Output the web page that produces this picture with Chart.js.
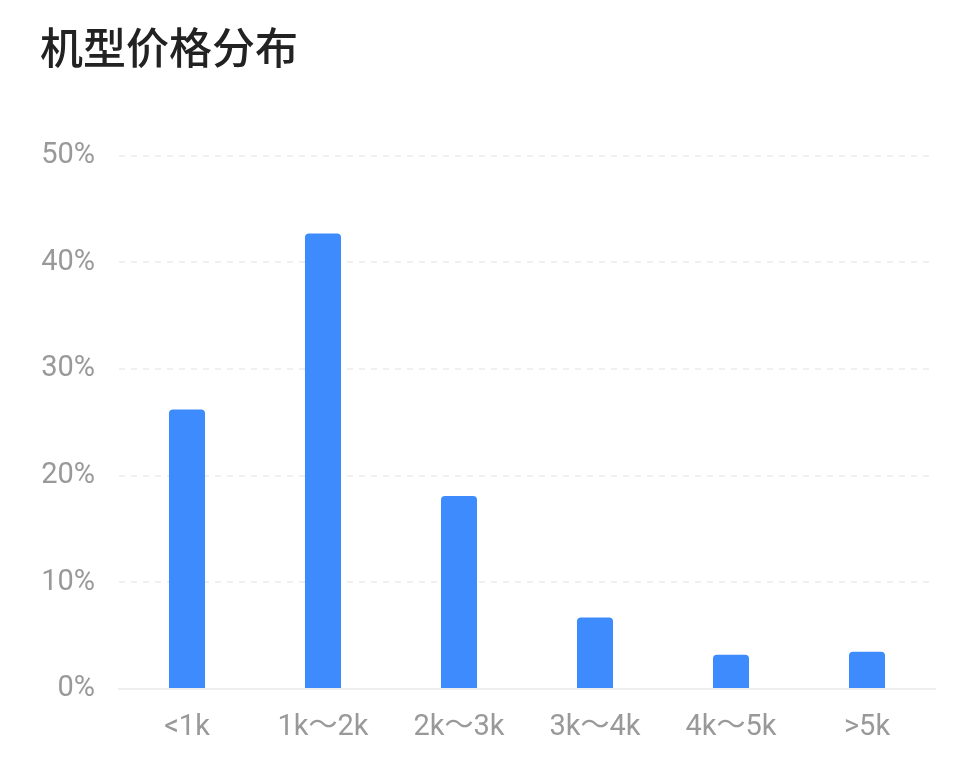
<!DOCTYPE html>
<html>
<head>
<meta charset="utf-8">
<script src="https://cdn.jsdelivr.net/npm/chart.js@4/dist/chart.umd.min.js"></script>
<style>
  html, body { margin: 0; padding: 0; background: #fff; }
  #wrap { width: 977px; height: 770px; }
</style>
</head>
<body>
<div id="wrap"><canvas id="myChart"></canvas></div>
<script>
var categories = ['<1k', '1k～2k', '2k～3k', '3k～4k', '4k～5k', '>5k'];
var shares = [26.2, 42.7, 18.1, 6.7, 3.2, 3.5];
var yTicks = [0, 10, 20, 30, 40, 50];

document.addEventListener('DOMContentLoaded', function () {
    var ctx = document.getElementById('myChart');
    var fontFamily = 'Roboto, "Noto Sans CJK SC", sans-serif';

    new Chart(ctx, {
        type: 'bar',
        data: {
            labels: categories,
            datasets: [{
                label: '占比',
                data: shares,
                backgroundColor: '#3d8bfd',
                borderRadius: { topLeft: 4, topRight: 4 },
                borderSkipped: 'start',
                categoryPercentage: 1,
                barPercentage: 0.265
            }]
        },
        options: {
            responsive: true,
            maintainAspectRatio: false,
            animation: false,
            layout: { padding: { left: 40, right: 42, top: 22, bottom: 4 } },
            plugins: {
                legend: { display: false },
                tooltip: { enabled: false },
                title: {
                    display: true,
                    text: '机型价格分布',
                    align: 'start',
                    color: '#222',
                    font: { family: '"Noto Sans CJK SC", sans-serif', size: 43, weight: '500' },
                    padding: { top: 0, bottom: 82 }
                }
            },
            scales: {
                x: {
                    grid: { display: false, drawTicks: false },
                    border: { display: true, color: '#eeeeee', width: 2 },
                    ticks: { color: '#999', font: { family: fontFamily, size: 29, lineHeight: 1 }, padding: 24 }
                },
                y: {
                    min: 0,
                    max: 50,
                    afterBuildTicks: function (scale) {
                        scale.ticks = yTicks.map(function (v) { return { value: v }; });
                    },
                    afterFit: function (scale) { scale.width = 79; },
                    border: { display: false, dash: [6, 6] },
                    grid: {
                        drawTicks: false,
                        lineWidth: 2,
                        color: function (c) { return c.tick && c.tick.value === 0 ? 'rgba(0,0,0,0)' : '#f0f0f0'; }
                    },
                    ticks: {
                        color: '#999',
                        font: { family: fontFamily, size: 29 },
                        padding: 24,
                        callback: function (v) { return v + '%'; }
                    }
                }
            }
        }
    });
});
</script>
</body>
</html>
